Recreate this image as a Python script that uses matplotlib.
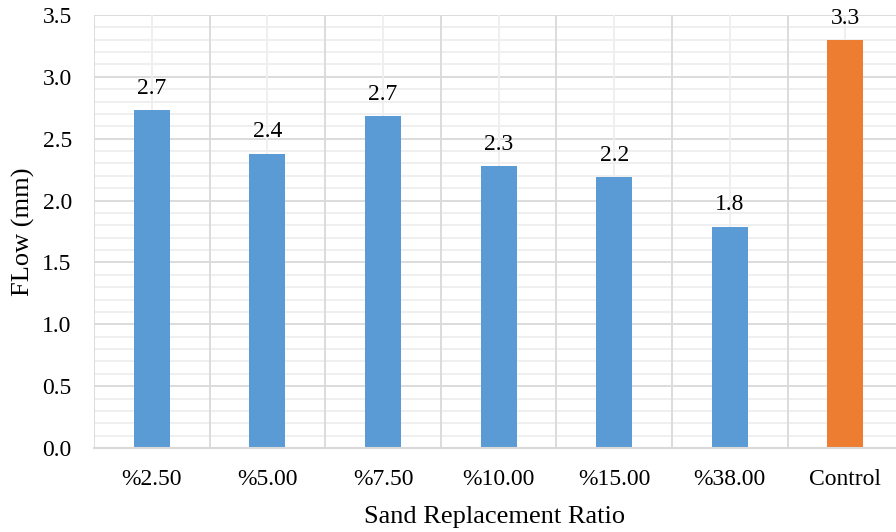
import matplotlib
matplotlib.use("Agg")
import matplotlib.pyplot as plt
import numpy as np

categories = ["%2.50", "%5.00", "%7.50", "%10.00", "%15.00", "%38.00", "Control"]
values = [2.73, 2.38, 2.68, 2.28, 2.19, 1.79, 3.30]
labels = ["2.7", "2.4", "2.7", "2.3", "2.2", "1.8", "3.3"]
colors = ["#5B9BD5"] * 6 + ["#ED7D31"]

plt.rcParams['font.family'] = ['Liberation Serif', 'DejaVu Serif']

fig = plt.figure(figsize=(8.96, 5.32), dpi=100)
W, H = 896, 532
left, right, top, bottom = 94, 896, 15, 448
ax = fig.add_axes([left / W, 1 - bottom / H, (right - left) / W, (bottom - top) / H])

x = np.arange(len(categories))
ax.bar(x, values, width=0.31, color=colors, zorder=3)
for xi, v, lab in zip(x, values, labels):
    ax.text(xi, v + 0.09, lab, ha='center', va='bottom', fontsize=17, color='#000000')

cat_w = 115.6
ax.set_xlim(-0.5, -0.5 + (right - left) / cat_w)
ax.set_ylim(0, 3.5)
ax.set_xticks(x)
ax.set_xticklabels(categories, fontsize=17)
yt = np.arange(0, 3.51, 0.5)
ax.set_yticks(yt)
ax.set_yticklabels([f"{v:.1f}" for v in yt], fontsize=17)

ax.tick_params(axis='both', which='both', length=0)
ax.tick_params(axis='x', which='major', pad=15)
ax.tick_params(axis='y', which='major', pad=16)

ax.grid(False)
for yv in np.arange(0.1, 3.51, 0.1):
    if abs(yv / 0.5 - round(yv / 0.5)) < 1e-6:
        ax.axhline(yv, color='#D9D9D9', lw=1.3, zorder=1)
    else:
        ax.axhline(yv, color='#EEEEEE', lw=1.3, zorder=1)
for xv in np.arange(-0.5, 7.0, 1.0):
    ax.axvline(xv, color='#D9D9D9', lw=1.3, zorder=1)
for xv in x:
    ax.axvline(xv, color='#EEEEEE', lw=1.3, zorder=1)

for s in ['top', 'right', 'left']:
    ax.spines[s].set_visible(False)
ax.spines['bottom'].set_color('#D9D9D9')
ax.spines['bottom'].set_linewidth(1.5)
ax.spines['bottom'].set_zorder(4)

ax.set_xlabel("Sand Replacement Ratio", fontsize=19, labelpad=12)
ax.set_ylabel("FLow (mm)", fontsize=19, labelpad=5)

fig.savefig("out.png", dpi=100)
